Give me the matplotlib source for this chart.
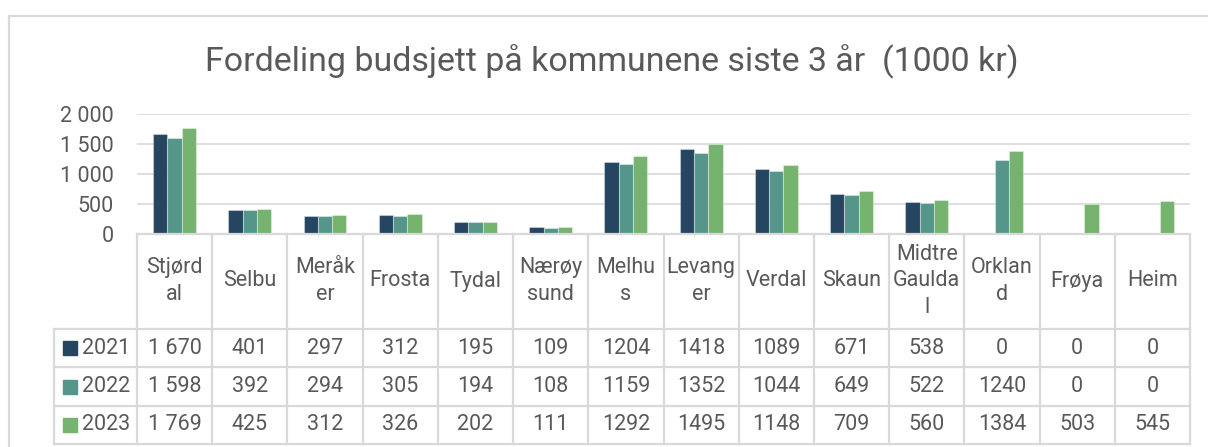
import matplotlib
matplotlib.use("Agg")
import matplotlib.pyplot as plt
from matplotlib.lines import Line2D
from matplotlib.patches import Rectangle

kommuner = ["Stjørdal", "Selbu", "Meråker", "Frosta", "Tydal", "Nærøysund",
            "Melhus", "Levanger", "Verdal", "Skaun", "Midtre Gauldal",
            "Orkland", "Frøya", "Heim"]
# how Excel wrapped the names in the table header
header_labels = ["Stjørd\nal", "Selbu", "Meråk\ner", "Frosta", "Tydal",
                 "Nærøy\nsund", "Melhu\ns", "Levang\ner", "Verdal", "Skaun",
                 "Midtre\nGaulda\nl", "Orklan\nd", "Frøya", "Heim"]
years = ["2021", "2022", "2023"]
b2021 = [1670, 401, 297, 312, 195, 109, 1204, 1418, 1089, 671, 538, 0, 0, 0]
b2022 = [1598, 392, 294, 305, 194, 108, 1159, 1352, 1044, 649, 522, 1240, 0, 0]
b2023 = [1769, 425, 312, 326, 202, 111, 1292, 1495, 1148, 709, 560, 1384, 503, 545]
series = [b2021, b2022, b2023]
colors = ["#264561", "#56968A", "#76B36E"]
yticks = [0, 500, 1000, 1500, 2000]

W, H = 1208, 447
TXT = "#595959"
GRID = "#d9d9d9"
FONT = "Roboto"

plt.rcParams["font.family"] = [FONT, "DejaVu Sans"]

fig = plt.figure(figsize=(W / 100, H / 100), dpi=100)

# chart frame (only left and top edges are visible in the crop)
fig.add_artist(Line2D([9 / W, 9 / W], [0, 1 - 16 / H], color=GRID, lw=1.6,
                      transform=fig.transFigure))
fig.add_artist(Line2D([9 / W, 1], [1 - 16 / H, 1 - 16 / H], color=GRID, lw=1.6,
                      transform=fig.transFigure))

fig.text(612 / W, 1 - 62 / H, "Fordeling budsjett på kommunene siste 3 år  (1000 kr)",
         ha="center", va="center", fontsize=24.4, color=TXT)

# bar area
x0, x1 = 137, 1190
ytop, ybase = 114, 234
ax = fig.add_axes([x0 / W, 1 - ybase / H, (x1 - x0) / W, (ybase - ytop) / H])
n = len(kommuner)
bw = 0.19
for k, (vals, c) in enumerate(zip(series, colors)):
    xs = [i + (k - 1) * bw for i in range(n)]
    ax.bar(xs, vals, width=bw, color=c, edgecolor=(1, 1, 1, 0.35),
           linewidth=0.8, zorder=3)
ax.set_xlim(-0.5, n - 0.5)
ax.set_ylim(0, 2000)
ax.set_yticks(yticks)
ax.set_yticklabels([f"{v:,}".replace(",", " ") for v in yticks])
ax.tick_params(axis="y", length=0, pad=17, labelsize=15.5, labelcolor=TXT)
ax.set_xticks([])
ax.grid(axis="y", color=GRID, lw=1.2, zorder=0)
for s in ax.spines.values():
    s.set_visible(False)
ax.set_facecolor("none")

# data table below the bars
tl = 54
row_lines = [234, 329, 367, 406, 444]
colw = (x1 - x0) / n
ax_t = fig.add_axes([tl / W, 1 - 444 / H, (x1 - tl) / W, (444 - 234) / H])
ax_t.set_xlim(-0.5 - (x0 - tl) / colw, n - 0.5)
ax_t.set_ylim(444, 234)
ax_t.axis("off")
left = -0.5 - (x0 - tl) / colw
lk = dict(color=GRID, lw=1.6, clip_on=False, solid_capstyle="projecting")

ax_t.plot([-0.5, n - 0.5], [234, 234], **lk)
for y in row_lines[1:]:
    ax_t.plot([left, n - 0.5], [y, y], **lk)
for i in range(n + 1):
    ax_t.plot([i - 0.5, i - 0.5], [234, 444], **lk)
ax_t.plot([left, left], [329, 444], **lk)

for i, lab in enumerate(header_labels):
    ax_t.text(i, 281, lab, ha="center", va="center", multialignment="center",
              fontsize=15.5, color=TXT, linespacing=1.32)

for r, (yr, vals, c) in enumerate(zip(years, series, colors)):
    yc = (row_lines[r + 1] + row_lines[r + 2]) / 2
    sq = 14 / colw
    ax_t.add_patch(Rectangle((left + 9 / colw, yc - 7), sq, 14, color=c,
                             clip_on=False))
    ax_t.text(left + 28 / colw, yc, yr, ha="left", va="center",
              fontsize=15.5, color=TXT)
    for i, v in enumerate(vals):
        s = f"{v:,}".replace(",", " ") if i == 0 else str(v)
        ax_t.text(i, yc, s, ha="center", va="center", fontsize=15.5, color=TXT)

fig.savefig("out.png", dpi=100, facecolor="white")
